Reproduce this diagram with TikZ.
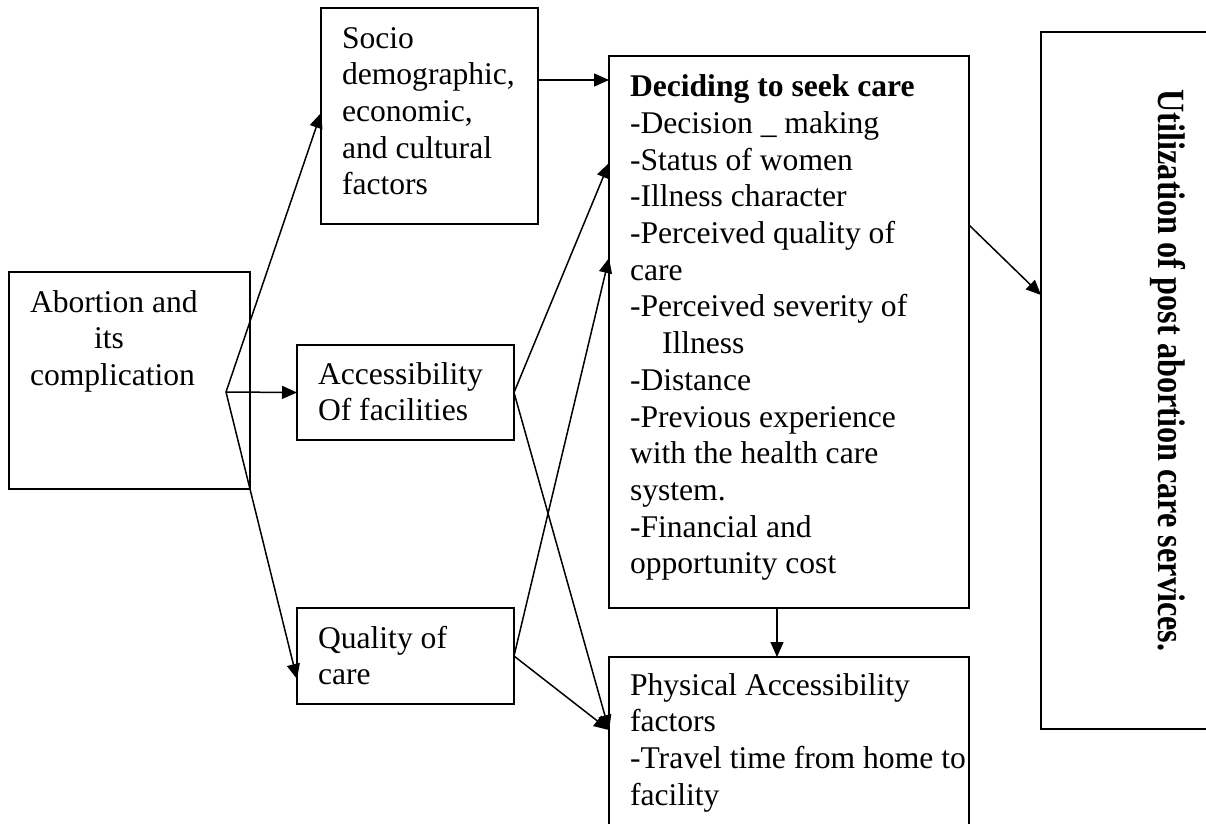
\documentclass[tikz,border=0pt]{standalone}
\usepackage{fontspec}
\setmainfont{Liberation Serif}
\usetikzlibrary{arrows.meta,calc}
\begin{document}
\begin{tikzpicture}[x=1pt,y=-1pt,
  box/.style={draw, line width=1.8pt, rectangle, inner sep=0pt, outer sep=0pt, anchor=north west},
  txt/.style={inner sep=0pt, outer sep=0pt, anchor=base west, font=\fontsize{31.6}{36.7}\selectfont},
  link/.style={line width=1.5pt, -{Triangle[length=15pt,width=13pt]}}]
\useasboundingbox (0,0) rectangle (1206,823);
\clip (0,0) rectangle (1206,823);

% boxes
\node[box, minimum width=241pt, minimum height=217pt] (abort) at (9,272) {};
\node[box, minimum width=217pt, minimum height=216pt] (socio) at (321,8) {};
\node[box, minimum width=217pt, minimum height=95pt]  (acc)   at (297,345) {};
\node[box, minimum width=217pt, minimum height=96pt]  (qual)  at (297,608) {};
\node[box, minimum width=360pt, minimum height=552pt] (dec)   at (609,56) {};
\node[box, minimum width=360pt, minimum height=260pt] (phys)  at (609,657) {};
\node[box, minimum width=260pt, minimum height=697pt] (util)  at (1041,32) {};

% box texts
\node[txt] (abort-t) at (30,312) {\parbox[t]{220pt}{\raggedright
  Abortion and\\\hspace*{64pt}its\\complication}};
\node[txt] (socio-t) at (342,48) {\parbox[t]{200pt}{\raggedright
  Socio\\demographic,\\economic,\\and cultural\\factors}};
\node[txt] (acc-t) at (318,384) {\parbox[t]{200pt}{\raggedright
  Accessibility\\Of facilities}};
\node[txt] (qual-t) at (318,648) {\parbox[t]{200pt}{\raggedright
  Quality of\\care}};
\node[txt] (dec-t) at (630,96.7) {\parbox[t]{340pt}{\raggedright
  \textbf{Deciding to seek care}\\
  -Decision \_ making\\
  -Status of women\\
  -Illness character\\
  -Perceived quality of\\
  care\\
  -Perceived severity of\\
  \hspace*{32pt}Illness\\
  -Distance\\
  -Previous experience\\
  with the health care\\
  system.\\
  -Financial and\\
  opportunity cost}};
\node[txt] (phys-t) at (630,695) {\parbox[t]{340pt}{\raggedright
  Physical Accessibility\\
  factors\\
  -Travel time from home to\\
  facility}};
\node[inner sep=0pt, rotate=-90, anchor=base, font=\fontsize{31.6}{36.7}\selectfont\bfseries]
  (util-t) at (1158,370.5) {\scalebox{1.02}[1.22]{Utilization of post abortion care services.}};

% connectors
\coordinate (fork) at (226,392);
\draw[link] (fork) -- ($(socio.north west)+(0,105)$);
\draw[link] (fork) -- (acc.west);
\draw[link] (fork) -- ($(qual.north west)+(0,71)$);
\draw[link] ($(socio.north east)+(0,72)$) -- ($(dec.north west)+(0,24)$);
\draw[link] (acc.east) -- ($(dec.north west)+(0,107)$);
\draw[link] (qual.east) -- ($(dec.north west)+(0,202)$);
\draw[link] (acc.east) -- ($(phys.north west)+(0,73)$);
\draw[link] (qual.east) -- ($(phys.north west)+(0,73)$);
\draw[link] ($(dec.south west)+(168,0)$) -- ($(phys.north west)+(168,0)$);
\draw[link] ($(dec.north east)+(0,169)$) -- ($(util.north west)+(0,263)$);
\end{tikzpicture}
\end{document}
